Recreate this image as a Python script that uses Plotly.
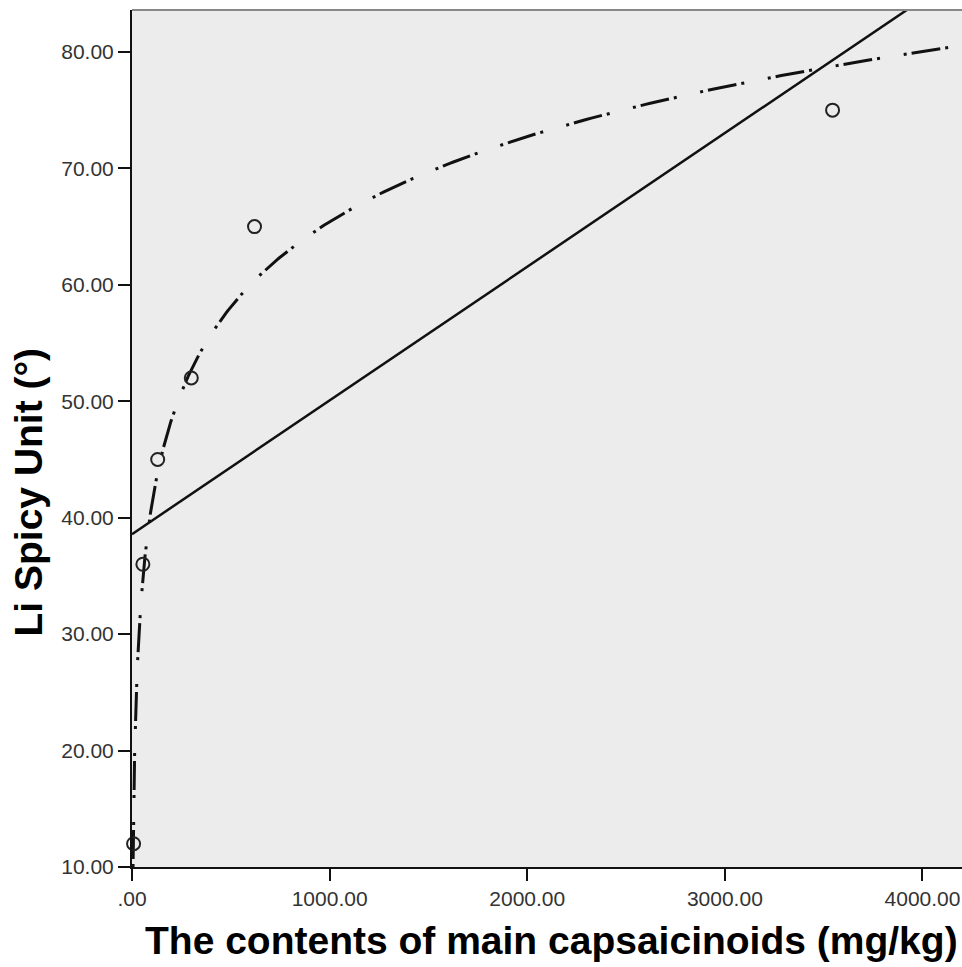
import numpy as np
import plotly.graph_objects as go

# Data
capsaicinoids = [8, 55, 130, 300, 620, 3545]      # mg/kg
spicy_unit = [12, 36, 45, 52, 65, 75]             # Li Spicy Unit

x_tick_vals = [0, 1000, 2000, 3000, 4000]
x_tick_text = [".00", "1000.00", "2000.00", "3000.00", "4000.00"]
y_tick_vals = [10, 20, 30, 40, 50, 60, 70, 80]
y_tick_text = ["10.00", "20.00", "30.00", "40.00", "50.00", "60.00", "70.00", "80.00"]

x_range = [0, 4200]
y_range = [10, 83.6]

xs = np.array(capsaicinoids, dtype=float)
ys = np.array(spicy_unit, dtype=float)

# Linear fit
b1, a1 = np.polyfit(xs, ys, 1)
lx = np.array(x_range, dtype=float)
ly = a1 + b1 * lx

# Logarithmic fit
b2, a2 = np.polyfit(np.log(xs), ys, 1)
x_start = np.exp((y_range[0] - a2) / b2)
cx = np.geomspace(x_start, x_range[1], 600)
cy = a2 + b2 * np.log(cx)

fig = go.Figure()
fig.add_trace(go.Scatter(x=lx, y=ly, mode="lines",
                         line=dict(color="#111111", width=2.5), showlegend=False))
fig.add_trace(go.Scatter(x=cx, y=cy, mode="lines",
                         line=dict(color="#111111", width=3,
                                   dash="3px,5px,29px,5px,3px,24px"),
                         showlegend=False))
fig.add_trace(go.Scatter(x=xs, y=ys, mode="markers",
                         marker=dict(symbol="circle-open", size=13,
                                     color="#222222", line=dict(width=2)),
                         showlegend=False, cliponaxis=False))

tick_font = dict(family="Liberation Sans, Arial, sans-serif", size=21, color="#333333")
fig.update_xaxes(range=x_range, tickvals=x_tick_vals, ticktext=x_tick_text,
                 showgrid=False, zeroline=False, showline=True, linecolor="#111111",
                 linewidth=2, ticks="outside", ticklen=12, tickwidth=2,
                 tickcolor="#111111", tickfont=tick_font)
fig.update_yaxes(range=y_range, tickvals=y_tick_vals, ticktext=y_tick_text,
                 showgrid=False, zeroline=False, showline=True, linecolor="#111111",
                 linewidth=2, ticks="outside", ticklen=12, tickwidth=2,
                 tickcolor="#111111", tickfont=tick_font, ticklabelstandoff=0)

title_font = dict(family="Liberation Sans, Arial, sans-serif", size=39, color="#000000")
fig.add_annotation(text="<b>The contents of main capsaicinoids (mg/kg)</b>",
                   xref="paper", yref="paper", x=0.5, y=0, xshift=4, yshift=-73,
                   xanchor="center", yanchor="middle", showarrow=False, font=title_font)
fig.add_annotation(text="<b>Li Spicy Unit (°)</b>", textangle=-90,
                   xref="paper", yref="paper", x=0, xshift=-104, y=0.5, yshift=-54,
                   xanchor="center", yanchor="middle", showarrow=False, font=title_font)

fig.add_shape(type="line", xref="paper", yref="paper", x0=0, x1=1, y0=1, y1=1,
              line=dict(color="#888888", width=2))

fig.update_layout(width=962, height=967, margin=dict(l=132, r=0, t=10, b=100),
                  plot_bgcolor="#ececec", paper_bgcolor="#ffffff")

fig.write_html("out.html", config={"displayModeBar": False},
               post_script="document.body.style.margin='0px';document.body.style.overflow='hidden';")
